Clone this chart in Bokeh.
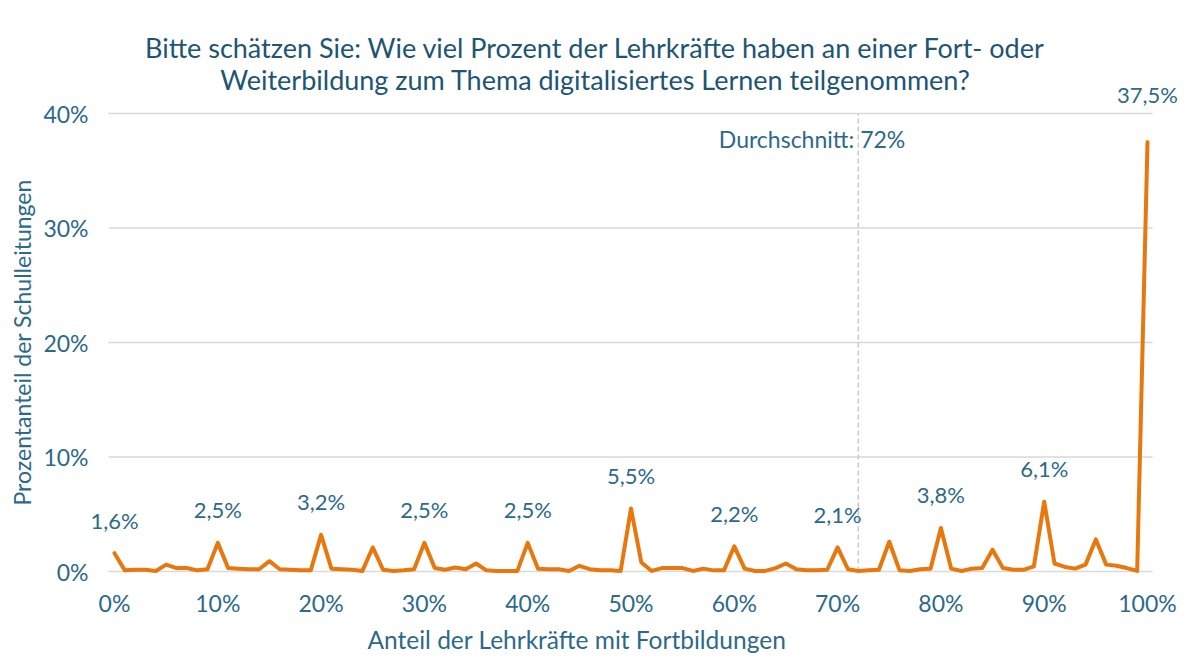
from bokeh.plotting import figure
from bokeh.models import ColumnDataSource, LabelSet, Label, FixedTicker, Range1d, Title
from bokeh.core.properties import value
from bokeh.embed import file_html
from bokeh.resources import INLINE

# ---------------- data ----------------
title_lines = [
    "Bitte schätzen Sie: Wie viel Prozent der Lehrkräfte haben an einer Fort- oder",
    "Weiterbildung zum Thema digitalisiertes Lernen teilgenommen?",
]
x_label = "Anteil der Lehrkräfte mit Fortbildungen"
y_label = "Prozentanteil der Schulleitungen"

share_teachers = list(range(0, 101))
share_schools = [
    1.6, 0.1, 0.15, 0.15, 0.05, 0.6, 0.3, 0.3, 0.1, 0.2,
    2.5, 0.3, 0.25, 0.2, 0.2, 0.9, 0.2, 0.15, 0.1, 0.1,
    3.2, 0.25, 0.2, 0.15, 0.05, 2.1, 0.15, 0.05, 0.1, 0.2,
    2.5, 0.3, 0.15, 0.35, 0.2, 0.7, 0.1, 0.05, 0.05, 0.05,
    2.5, 0.25, 0.2, 0.2, 0.05, 0.5, 0.2, 0.1, 0.1, 0.05,
    5.5, 0.8, 0.05, 0.3, 0.3, 0.3, 0.05, 0.25, 0.1, 0.1,
    2.2, 0.25, 0.05, 0.05, 0.3, 0.7, 0.2, 0.1, 0.1, 0.15,
    2.1, 0.2, 0.05, 0.1, 0.15, 2.6, 0.1, 0.05, 0.2, 0.25,
    3.8, 0.25, 0.05, 0.25, 0.3, 1.9, 0.3, 0.15, 0.15, 0.45,
    6.1, 0.7, 0.4, 0.25, 0.6, 2.8, 0.6, 0.5, 0.3, 0.05,
    37.5,
]

labelled_x = [0, 10, 20, 30, 40, 50, 60, 70, 80, 90, 100]
labelled_text = ["1,6%", "2,5%", "3,2%", "2,5%", "2,5%", "5,5%",
                 "2,2%", "2,1%", "3,8%", "6,1%", "37,5%"]

average = 72
average_text = "Durchschnitt: 72%"

x_ticks = [0, 10, 20, 30, 40, 50, 60, 70, 80, 90, 100]
x_tick_labels = ["0%", "10%", "20%", "30%", "40%", "50%", "60%", "70%", "80%", "90%", "100%"]
y_ticks = [0, 10, 20, 30, 40]
y_tick_labels = ["0%", "10%", "20%", "30%", "40%"]

# ---------------- style / layout ----------------
FONT = "Lato"
TITLE_COLOR = "#1d5574"
TEXT_COLOR = "#2b6a89"
LINE_COLOR = "#e8770e"
GRID_COLOR = "#d9d9d9"

W, H = 1188, 656
FRAME_L, FRAME_R, FRAME_T, FRAME_B = 90, 1185, 5, 575
X0_PX, X_PX_PER = 114, 10.33     # pixel of x=0 and pixels per unit
Y0_PX, Y_PX_PER = 571, 11.45     # pixel of y=0 and pixels per unit

x_start = -(X0_PX - FRAME_L) / X_PX_PER
x_end = (FRAME_R - X0_PX) / X_PX_PER
y_start = -(FRAME_B - Y0_PX) / Y_PX_PER
y_end = (Y0_PX - FRAME_T) / Y_PX_PER
grid_x0 = -(X0_PX - 108) / X_PX_PER
grid_x1 = (1152 - X0_PX) / X_PX_PER

p = figure(
    width=W, height=H,
    output_backend="svg", toolbar_location=None,
    x_range=Range1d(x_start, x_end), y_range=Range1d(y_start, y_end),
    min_border_left=FRAME_L, min_border_right=W - FRAME_R,
    min_border_top=FRAME_T, min_border_bottom=H - FRAME_B,
    title=None,
)
p.outline_line_color = None
p.background_fill_color = "white"
p.border_fill_color = "white"
p.xgrid.grid_line_color = None
p.ygrid.grid_line_color = None

p.xaxis.ticker = FixedTicker(ticks=x_ticks)
p.yaxis.ticker = FixedTicker(ticks=y_ticks)
p.xaxis.major_label_overrides = {t: l for t, l in zip(x_ticks, x_tick_labels)}
p.yaxis.major_label_overrides = {t: l for t, l in zip(y_ticks, y_tick_labels)}

for ax in (p.xaxis, p.yaxis):
    ax.axis_line_color = None
    ax.major_tick_line_color = None
    ax.minor_tick_line_color = None
    ax.major_tick_out = 0
    ax.major_tick_in = 0
    ax.minor_tick_out = 0
    ax.minor_tick_in = 0
    ax.major_label_text_font = FONT
    ax.major_label_text_font_size = "23px"
    ax.major_label_text_color = TEXT_COLOR
p.xaxis.major_label_standoff = 13
p.yaxis.major_label_standoff = 2

# horizontal gridlines at the y ticks (limited to the chart area)
p.segment(x0=[grid_x0] * len(y_ticks), y0=y_ticks, x1=[grid_x1] * len(y_ticks), y1=y_ticks,
          line_color=GRID_COLOR, line_width=1.5)

# average line
p.segment(x0=[average], y0=[y_ticks[0]], x1=[average], y1=[y_ticks[-1]],
          line_color="#c8c8c8", line_width=1.5, line_dash="5 3")

# main series
p.line(share_teachers, share_schools, line_color=LINE_COLOR, line_width=4,
       line_join="round", line_cap="round")

# data labels
lab_y = [share_schools[x] for x in labelled_x]
lab_off = [48 if v > 20 else 33 for v in lab_y]
src = ColumnDataSource(dict(x=labelled_x, y=lab_y, text=labelled_text, off=lab_off))
p.add_layout(LabelSet(x="x", y="y", text="text", source=src, y_offset="off",
                      text_align="center", text_baseline="middle",
                      text_font=value(FONT), text_font_size=value("22px"),
                      text_color=TEXT_COLOR))

# average label
p.add_layout(Label(x=average, y=FRAME_B - 138, x_units="data", y_units="screen",
                   text=average_text, text_align="right", text_baseline="middle",
                   x_offset=47, text_font=FONT, text_font_size="23px",
                   text_color=TEXT_COLOR))

# chart title (two lines, centred on the page)
for line, cy in zip(title_lines, [47, 79]):
    p.add_layout(Label(x=595 - FRAME_L, y=FRAME_B - cy, x_units="screen", y_units="screen",
                       text=line, text_align="center", text_baseline="middle",
                       text_font=FONT, text_font_size="27px", text_color=TITLE_COLOR))

# y-axis title (placed along the 0%..40% span)
p.add_layout(Title(text=y_label, align="left", offset=FRAME_B - 505, standoff=10,
                   text_font=FONT, text_font_size="23px", text_font_style="normal",
                   text_color=TEXT_COLOR), "left")

# x-axis title
p.add_layout(Title(text=x_label, align="left", offset=367 - FRAME_L, standoff=6,
                   text_font=FONT, text_font_size="24.5px", text_font_style="normal",
                   text_color=TEXT_COLOR), "below")

open("out.html", "w").write(file_html(p, INLINE))
